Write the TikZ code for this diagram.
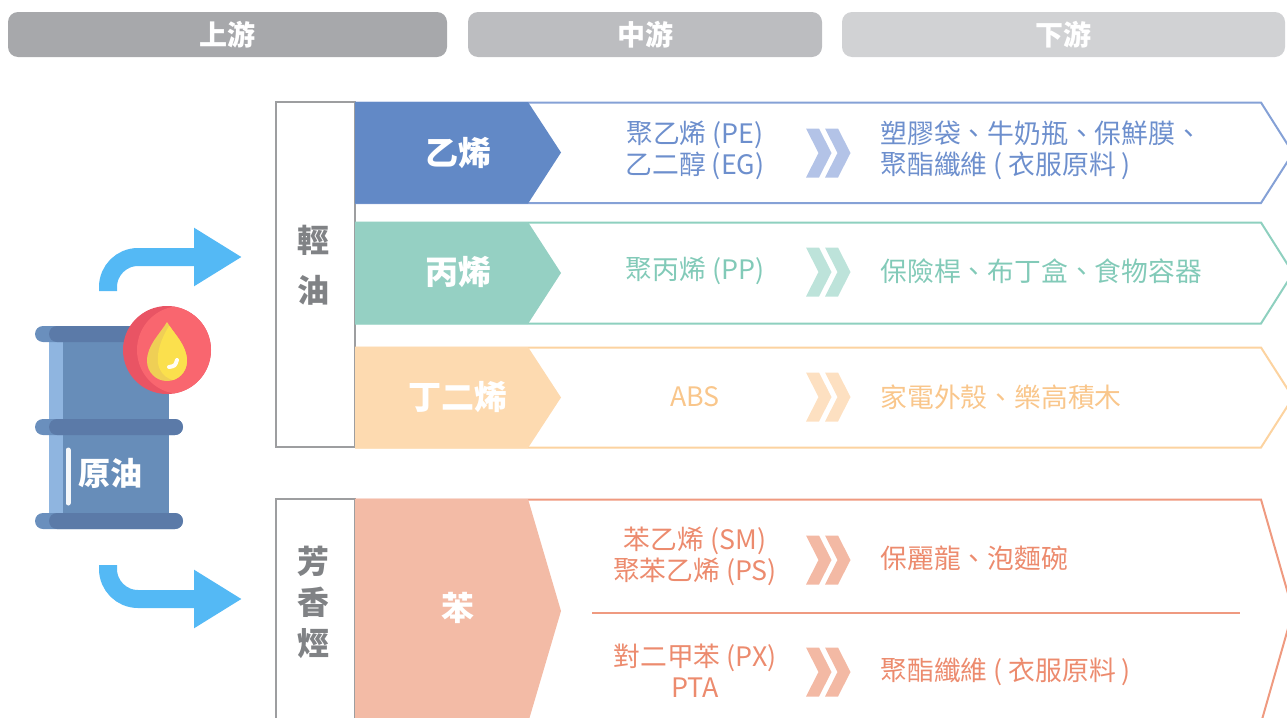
\documentclass[tikz,border=0pt]{standalone}
\usepackage{fontspec}
\setmainfont{Noto Sans CJK TC}
\usetikzlibrary{arrows.meta}

\definecolor{upgray}{HTML}{A7A8AB}
\definecolor{midgray}{HTML}{BCBDC0}
\definecolor{downgray}{HTML}{D1D2D4}
\definecolor{boxgray}{HTML}{9D9EA0}
\definecolor{labgray}{HTML}{808285}
\definecolor{ethfill}{HTML}{6289C6}
\definecolor{ethline}{HTML}{85A1D6}
\definecolor{ethtext}{HTML}{6D8FCD}
\definecolor{ethchev}{HTML}{B3C3E7}
\definecolor{profill}{HTML}{95D0C3}
\definecolor{proline}{HTML}{8ED0BF}
\definecolor{protext}{HTML}{82CAB8}
\definecolor{prochev}{HTML}{BDE3DA}
\definecolor{butfill}{HTML}{FDDAB0}
\definecolor{butline}{HTML}{FCD3A0}
\definecolor{buttext}{HTML}{F9C68B}
\definecolor{butchev}{HTML}{FDE0C1}
\definecolor{benfill}{HTML}{F3BBA6}
\definecolor{benline}{HTML}{EF9A80}
\definecolor{bentext}{HTML}{EC8B6E}
\definecolor{benchev}{HTML}{F3B9A4}
\definecolor{barrelbody}{HTML}{678DB9}
\definecolor{barrelrim}{HTML}{5B7AA8}
\definecolor{barrellight}{HTML}{8FB5E0}
\definecolor{rimlight}{HTML}{6A8FBD}
\definecolor{flamered}{HTML}{F9666F}
\definecolor{flamedark}{HTML}{E95464}
\definecolor{dropyellow}{HTML}{FBE04D}
\definecolor{dropdark}{HTML}{EFCF55}
\definecolor{arrowblue}{HTML}{54B9F5}

\tikzset{
  stage/.style={fill=#1, rounded corners=5pt, text=white, inner sep=0pt,
    minimum height=22.5pt, font=\bfseries\fontsize{14}{16}\selectfont},
  groupbox/.style={draw=boxgray, line width=1pt},
  grouplabel/.style={text=labgray, align=center, inner sep=0pt,
    font=\bfseries\fontsize{16}{#1}\selectfont},
  chemlabel/.style={text=white, font=\bfseries\fontsize{16.5}{20}\selectfont},
  midtext/.style={text=#1, align=center, inner sep=0pt,
    font=\fontsize{13.4}{15.5}\selectfont},
  usetext/.style={text=#1, align=left, anchor=west, inner sep=0pt,
    font=\fontsize{13.4}{15.5}\selectfont},
  rowline/.style={draw=#1, line width=1pt},
  flow/.style={draw=arrowblue, line width=9pt, rounded corners=15pt,
    -{Triangle[length=24pt,width=27.5pt]}},
}

% two chevrons between the middle and downstream columns
\newcommand{\dblchev}[2]{%
  \foreach \dx in {0,19} {
    \fill[#2] ({806+\dx},{#1-24.5}) -- ({819+\dx},{#1-24.5}) -- ({831.5+\dx},#1)
      -- ({819+\dx},{#1+24.5}) -- ({806+\dx},{#1+24.5}) -- ({818.5+\dx},#1) -- cycle;
  }%
}

\begin{document}
\begin{tikzpicture}[x=0.5pt,y=-0.5pt]
\clip (0,0) rectangle (1287,718);

% stage headers
\node[stage=upgray, minimum width=219.5pt] (up) at (227.5,34.5) {上游};
\node[stage=midgray, minimum width=177pt] (mid) at (645,34.5) {中游};
\node[stage=downgray, minimum width=221.5pt] (down) at (1063.5,34.5) {下游};

% feedstock boxes
\draw[groupbox] (276,102) rectangle (355,447);
\node[grouplabel=25pt] (naphtha) at (313,265) {輕\\油};
\draw[groupbox] (276,499) rectangle (355,740);
\node[grouplabel=20.5pt] (aromatic) at (313,602) {芳\\香\\烴};

% outlined rows
\draw[rowline=ethline] (355,102.5) -- (1261,102.5) -- (1293,153) -- (1261,203) -- (355,203);
\draw[rowline=proline] (355,222.5) -- (1261,222.5) -- (1293,273) -- (1261,323.5) -- (355,323.5);
\draw[rowline=butline] (355,347.5) -- (1261,347.5) -- (1293,397.5) -- (1261,447.5) -- (355,447.5);
\draw[rowline=benline] (355,499.5) -- (1261,499.5) -- (1293,611) -- (1261,723) -- (355,723);
\draw[rowline=benline] (592,613) -- (1240,613);

% filled arrows
\fill[ethfill] (355,102) -- (528,102) -- (561,152.5) -- (528,203.5) -- (355,203.5) -- cycle;
\fill[profill] (355,222) -- (528,222) -- (561,273) -- (528,324) -- (355,324) -- cycle;
\fill[butfill] (355,347) -- (528,347) -- (561,397.5) -- (528,448) -- (355,448) -- cycle;
\fill[benfill] (355,499) -- (528,499) -- (561,611) -- (528,723) -- (355,723) -- cycle;

\node[chemlabel] (ethylene) at (458,153) {乙烯};
\node[chemlabel] (propylene) at (458,272) {丙烯};
\node[chemlabel] (butadiene) at (458,397) {丁二烯};
\node[chemlabel] (benzene) at (458,608) {苯};

% middle column
\node[midtext=ethtext] (pe) at (695,150) {聚乙烯 (PE)\\乙二醇 (EG)};
\node[midtext=protext] (pp) at (695,271) {聚丙烯 (PP)};
\node[midtext=buttext] (abs) at (695,397) {ABS};
\node[midtext=bentext] (ps) at (695,556) {苯乙烯 (SM)\\聚苯乙烯 (PS)};
\node[midtext=bentext] (px) at (695,671) {對二甲苯 (PX)\\PTA};

\dblchev{153}{ethchev}
\dblchev{272}{prochev}
\dblchev{397}{butchev}
\dblchev{560}{benchev}
\dblchev{672}{benchev}

% downstream column
\node[usetext=ethtext] (peuse) at (880,150) {塑膠袋、牛奶瓶、保鮮膜、\\聚酯纖維 ( 衣服原料 )};
\node[usetext=protext] (ppuse) at (880,271) {保險桿、布丁盒、食物容器};
\node[usetext=buttext] (absuse) at (880,397) {家電外殼、樂高積木};
\node[usetext=bentext] (psuse) at (880,558) {保麗龍、泡麵碗};
\node[usetext=bentext] (pxuse) at (880,672) {聚酯纖維 ( 衣服原料 )};

% oil barrel
\fill[barrelbody] (49,342) rectangle (169,513);
\fill[barrellight] (49,342) rectangle (63,513);
\foreach \ry in {326,419,513} {
  \fill[rimlight, rounded corners=4pt] (35,\ry) rectangle (183,\ry+16);
  \fill[barrelrim, rounded corners=4pt] (49,\ry) rectangle (183,\ry+16);
}
\draw[white!93!barrelbody, line width=2.5pt, line cap=round] (68,450) -- (68,503);
\node[text=white, font=\bfseries\fontsize{16}{18}\selectfont] (crude) at (110,473) {原油};

% flame badge
\fill[flamedark] (167,350) circle (22pt);
\begin{scope}
  \clip (167,350) circle (22pt);
  \fill[flamered] (181,350) circle (22pt);
\end{scope}
\begin{scope}
  \clip (167,322) .. controls (160,334) and (147,345) .. (147,361)
    arc[start angle=180, end angle=360, radius=10pt]
    .. controls (187,345) and (174,334) .. (167,322);
  \fill[dropdark] (140,315) rectangle (195,390);
  \fill[dropyellow] (169,326) .. controls (160,341) and (157,352) .. (158,363)
    .. controls (160,378) and (176,385) .. (192,380) -- (192,318) -- cycle;
\end{scope}
\draw[white!95!dropyellow, line width=2pt, line cap=round] (169,367) .. controls (175,366) .. (177,360);

% flow arrows
\coordinate (lighttop) at (108,291);
\coordinate (lightend) at (242,257);
\coordinate (aromtop) at (108,565);
\coordinate (aromend) at (242,599);
\draw[flow] (lighttop) -- (lighttop |- lightend) -- (lightend);
\draw[flow] (aromtop) -- (aromtop |- aromend) -- (aromend);
\end{tikzpicture}
\end{document}
